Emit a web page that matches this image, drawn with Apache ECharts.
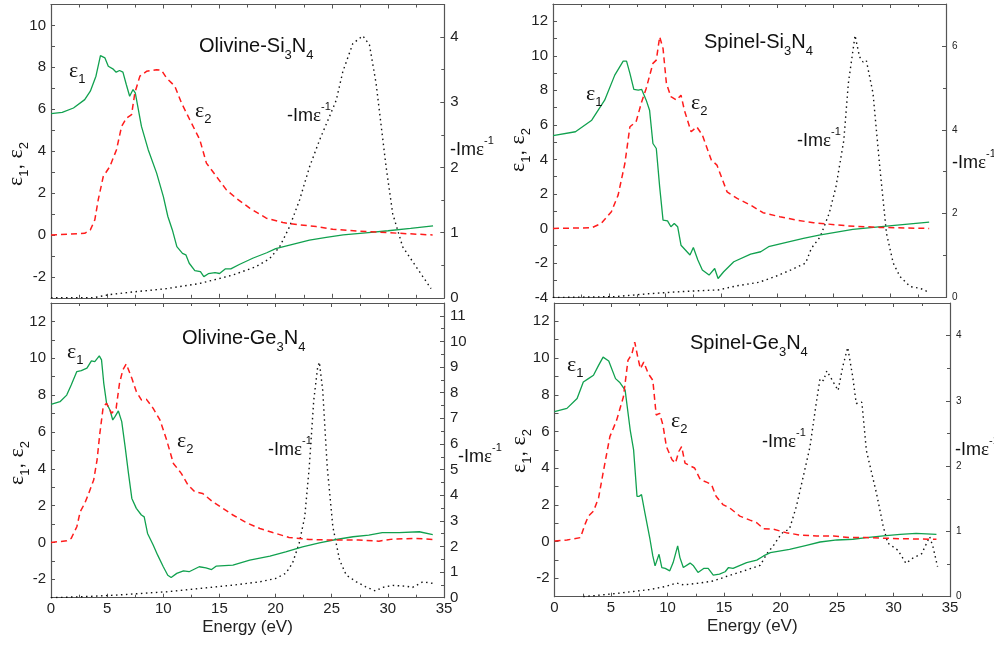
<!DOCTYPE html>
<html><head><meta charset="utf-8">
<script src="https://cdn.jsdelivr.net/npm/echarts@6/dist/echarts.min.js"></script>
<style>html,body{margin:0;padding:0;background:#fff}#c{width:994px;height:646px}</style>
</head><body><div id="c"></div><script>
// ---------- DATA (energy in eV, value) ----------
const energyTicks = [0, 5, 10, 15, 20, 25, 30, 35];

// Olivine-Si3N4
const oSiEps1 = [[0,5.79],[1,5.85],[2,6.06],[3,6.46],[3.5,6.86],[4,7.58],[4.4,8.56],[4.8,8.45],[5.1,8.05],[5.5,7.93],[5.8,7.77],[6.1,7.85],[6.4,7.77],[6.7,7.18],[7.0,6.62],[7.3,6.94],[7.5,6.78],[8.05,5.18],[8.65,4.07],[9.4,2.95],[10.0,1.83],[10.4,0.88],[10.8,0.24],[11.2,-0.56],[11.7,-0.88],[12.0,-0.95],[12.3,-1.35],[12.8,-1.7],[13.3,-1.75],[13.6,-1.99],[14.0,-1.85],[14.6,-1.8],[15.0,-1.84],[15.5,-1.62],[16.0,-1.62],[16.8,-1.4],[18.0,-1.1],[19.2,-0.85],[20.0,-0.65],[21.5,-0.45],[23.0,-0.25],[24.5,-0.12],[26.0,0.0],[28.0,0.1],[30.0,0.2],[32.0,0.31],[34.0,0.43]];
const oSiEps2 = [[0,0],[3.0,0.08],[3.5,0.24],[3.9,0.72],[4.2,1.67],[4.65,2.79],[5.24,3.27],[5.83,4.07],[6.28,5.18],[6.72,5.58],[7.17,5.74],[7.46,6.78],[7.91,7.58],[8.5,7.81],[9.39,7.89],[9.83,7.86],[10.27,7.5],[11.02,7.1],[11.61,6.3],[12.35,5.5],[13.24,4.55],[13.83,3.43],[14.72,2.79],[15.61,2.15],[16.49,1.75],[17.68,1.28],[19.16,0.8],[20.64,0.59],[22.12,0.48],[23.6,0.4],[25.08,0.27],[28.04,0.16],[31.0,0.08],[33.96,0.0]];
const oSiLoss = [[0,0],[3.76,0],[5.24,0.05],[7.31,0.09],[10.27,0.14],[13.24,0.22],[16.2,0.35],[18.27,0.48],[19.45,0.6],[20.34,0.78],[21.23,1.09],[22.12,1.5],[23.01,2.01],[23.9,2.42],[24.78,2.78],[25.38,3.03],[25.97,3.47],[26.86,3.9],[27.75,4.02],[28.34,3.88],[28.93,3.29],[29.82,2.01],[30.41,1.29],[31.3,0.78],[32.48,0.48],[33.82,0.14]];

// Spinel-Si3N4
const sSiEps1 = [[0,5.37],[2.0,5.6],[3.45,6.27],[4.6,7.43],[5.5,8.88],[6.25,9.69],[6.55,9.69],[6.85,8.98],[7.2,8.05],[7.6,8.01],[7.9,8.05],[8.3,7.43],[8.6,6.85],[8.9,4.92],[9.2,4.63],[9.5,2.41],[9.8,0.48],[10.2,0.44],[10.5,0.1],[10.8,0.29],[11.1,0.1],[11.4,-0.97],[12.2,-1.54],[12.5,-1.1],[12.9,-1.83],[13.3,-2.41],[13.9,-2.7],[14.4,-2.32],[14.7,-2.9],[15.2,-2.51],[16.1,-1.93],[17.6,-1.49],[18.5,-1.35],[19.2,-1.06],[20.6,-0.83],[22.3,-0.58],[23.7,-0.39],[26.7,-0.06],[29.7,0.14],[33.5,0.37]];
const sSiEps2 = [[0,0],[3.45,0.04],[4.3,0.29],[5.2,0.97],[5.8,1.93],[6.4,3.76],[6.85,5.89],[7.4,6.18],[7.9,7.34],[8.3,8.11],[8.9,9.56],[9.2,9.75],[9.5,11.1],[9.8,10.42],[10.1,8.4],[10.5,7.63],[11.0,7.43],[11.4,7.72],[11.7,6.85],[12.3,5.6],[12.8,5.89],[13.3,5.41],[14.1,3.96],[14.6,3.67],[15.5,2.12],[16.4,1.74],[17.6,1.35],[18.7,0.91],[20.2,0.68],[21.7,0.48],[23.2,0.33],[26.2,0.15],[29.1,0.06],[33.5,0]];
const sSiLoss = [[0,0],[5.5,0.02],[8.5,0.09],[11.4,0.14],[12.9,0.16],[14.7,0.18],[16.4,0.28],[18.3,0.36],[19.8,0.5],[21.2,0.66],[22.5,0.82],[23.0,1.17],[23.8,1.45],[24.6,2.01],[25.2,2.64],[25.9,3.75],[26.3,5.1],[26.9,6.25],[27.3,5.74],[27.6,5.62],[27.9,5.66],[28.5,4.87],[29.1,3.12],[29.7,1.53],[30.3,0.82],[30.9,0.5],[31.8,0.26],[32.7,0.22],[33.5,0.12]];

// Olivine-Ge3N4
const oGeEps1 = [[0,7.5],[0.8,7.64],[1.4,8.0],[1.8,8.55],[2.3,9.28],[2.7,9.33],[3.2,9.46],[3.6,9.86],[3.9,9.82],[4.3,10.13],[4.5,9.91],[4.7,8.64],[4.95,7.55],[5.25,7.19],[5.5,6.65],[5.7,6.83],[6.0,7.14],[6.3,6.56],[6.6,5.2],[6.9,3.75],[7.2,2.39],[7.6,1.85],[8.05,1.49],[8.3,1.39],[8.6,0.49],[9.1,-0.14],[9.5,-0.69],[10.0,-1.32],[10.4,-1.78],[10.7,-1.9],[11.2,-1.68],[11.8,-1.54],[12.3,-1.59],[13.2,-1.32],[13.8,-1.38],[14.3,-1.47],[14.7,-1.29],[16.2,-1.23],[17.7,-0.96],[19.5,-0.74],[20.9,-0.51],[22.4,-0.24],[23.9,-0.02],[25.4,0.16],[26.9,0.31],[28.3,0.4],[29.5,0.53],[31.0,0.53],[32.8,0.58],[34.0,0.43]];
const oGeEps2 = [[0,0],[1.4,0.09],[1.8,0.22],[2.3,0.85],[2.6,1.67],[3.0,2.12],[3.3,2.57],[3.8,3.39],[4.1,4.47],[4.35,5.92],[4.65,7.37],[4.95,7.55],[5.4,7.01],[5.8,7.28],[6.1,8.64],[6.4,9.37],[6.7,9.69],[7.2,8.91],[7.6,8.19],[8.05,7.74],[8.5,7.77],[9.1,7.28],[9.7,6.65],[10.3,5.56],[10.9,4.29],[11.6,3.75],[12.2,3.12],[12.8,2.75],[13.5,2.66],[14.4,2.21],[15.3,1.85],[16.2,1.49],[17.4,1.07],[18.6,0.76],[19.75,0.54],[21.2,0.27],[23.0,0.16],[25.1,0.13],[27.4,0.13],[29.2,0.07],[30.4,0.18],[32.5,0.22],[34.0,0.16]];
const oGeLoss = [[0,0],[2.9,0.04],[5.8,0.1],[8.8,0.19],[10.3,0.23],[13.2,0.36],[16.2,0.49],[18.6,0.62],[20.0,0.75],[20.9,0.95],[21.5,1.34],[22.1,2.12],[22.6,3.16],[23.0,5.1],[23.4,7.7],[23.75,9.0],[23.9,9.19],[24.2,8.09],[24.6,5.1],[25.1,2.77],[25.7,1.47],[26.3,0.88],[27.2,0.62],[28.0,0.43],[28.9,0.26],[29.5,0.4],[30.4,0.48],[31.6,0.45],[32.2,0.4],[33.1,0.62],[34.0,0.56]];

// Spinel-Ge3N4
const sGeEps1 = [[0,7.08],[1.1,7.26],[2.0,7.8],[2.55,8.7],[3.0,8.88],[3.45,9.06],[3.9,9.6],[4.3,10.05],[4.8,9.84],[5.4,8.88],[5.8,8.65],[6.25,8.25],[6.7,6.08],[7.0,5.0],[7.3,2.47],[7.5,2.47],[7.7,2.56],[8.0,1.57],[8.45,0.13],[8.7,-0.78],[8.9,-1.32],[9.05,-1.23],[9.25,-0.69],[9.5,-1.41],[9.8,-1.46],[10.2,-1.59],[10.5,-1.14],[10.9,-0.23],[11.1,-0.87],[11.4,-1.41],[12.0,-1.17],[12.3,-1.32],[12.7,-1.68],[13.2,-1.46],[13.6,-1.46],[14.05,-1.82],[14.6,-1.77],[15.1,-1.64],[15.4,-1.41],[15.8,-1.46],[17.0,-1.14],[17.9,-1.01],[18.5,-0.78],[19.1,-0.6],[20.8,-0.42],[22.3,-0.2],[23.5,-0.02],[25.0,0.09],[26.4,0.13],[27.6,0.22],[29.1,0.31],[30.6,0.4],[32.0,0.45],[33.8,0.4]];
const sGeEps2 = [[0,0.04],[1.1,0.09],[2.3,0.22],[2.7,0.94],[3.0,1.39],[3.45,1.66],[3.9,2.38],[4.3,3.74],[4.9,5.72],[5.5,6.62],[6.1,7.89],[6.5,9.87],[6.85,10.23],[7.1,10.87],[7.4,9.96],[7.6,9.42],[7.9,9.78],[8.3,9.15],[8.7,8.79],[9.0,6.9],[9.3,6.99],[9.6,6.35],[9.9,5.18],[10.4,4.46],[10.7,4.28],[11.0,4.91],[11.25,5.18],[11.55,4.28],[12.0,4.13],[12.4,4.01],[12.9,3.38],[13.5,3.23],[13.9,3.1],[14.3,2.47],[14.9,2.02],[15.5,1.84],[16.4,1.39],[17.3,1.17],[17.9,1.03],[18.5,0.7],[19.4,0.67],[20.5,0.49],[21.7,0.36],[23.2,0.31],[24.7,0.31],[26.1,0.22],[27.6,0.22],[30.6,0.16],[33.8,0.13]];
const sGeLoss = [[2.55,0],[5.5,0.05],[8.45,0.11],[9.9,0.16],[10.8,0.21],[11.4,0.18],[12.9,0.21],[14.05,0.24],[15.2,0.31],[17.0,0.41],[18.2,0.48],[18.8,0.66],[19.4,0.79],[20.1,0.97],[20.8,1.04],[21.4,1.38],[22.0,1.83],[22.6,2.29],[23.2,3.01],[23.5,3.34],[23.8,3.31],[24.1,3.46],[24.5,3.34],[25.1,3.16],[25.5,3.52],[25.95,3.82],[26.4,3.36],[26.7,2.96],[27.2,2.98],[27.6,2.24],[28.5,1.58],[29.1,1.07],[29.5,0.82],[30.0,0.76],[30.4,0.71],[31.1,0.51],[31.7,0.59],[32.5,0.66],[33.2,0.92],[33.5,0.76],[33.9,0.46]];

// axis ranges / tick label values
const leftRanges  = [[-3, 11], [-4, 13], [-3, 13], [-3, 13]];
const rightRanges = [[0, 4.5, 1], [0, 7, 2], [0, 11.5, 1], [0, 4.5, 1]];
const panelTitles = [['Olivine-Si', '3', 'N', '4'], ['Spinel-Si', '3', 'N', '4'], ['Olivine-Ge', '3', 'N', '4'], ['Spinel-Ge', '3', 'N', '4']];

// ---------- LAYOUT ----------
const SANS = 'Liberation Sans, Arial, sans-serif';
const SERIF = 'Liberation Serif, Times New Roman, serif';
const AX = '#555';
const grids = [
  {left: 51, top: 4.5, width: 393.3, height: 293.3},
  {left: 553, top: 4, width: 393, height: 293.5},
  {left: 51, top: 303, width: 393, height: 294.7},
  {left: 554.5, top: 303, width: 395.5, height: 293.7}
];
const rightLabelSize = [15, 10, 15, 10];

const xAxes = [], yAxes = [], series = [];
const lineCommon = {type: 'line', showSymbol: false, symbol: 'none', animation: false, silent: true};
const green = '#11a14f', red = '#ff1c1c';
const dataSets = [[oSiEps1, oSiEps2, oSiLoss], [sSiEps1, sSiEps2, sSiLoss], [oGeEps1, oGeEps2, oGeLoss], [sGeEps1, sGeEps2, sGeLoss]];

grids.forEach((g, i) => {
  const bottomLabels = i >= 2;
  const tickCommon = {inside: true, length: 4, lineStyle: {color: AX, width: 1}};
  const minorCommon = {show: true, splitNumber: 2, length: 3, lineStyle: {color: AX, width: 1}};
  xAxes.push({
    gridIndex: i, type: 'value', position: 'bottom', min: energyTicks[0], max: energyTicks[energyTicks.length - 1], interval: 5,
    axisLine: {show: true, onZero: false, lineStyle: {color: AX, width: 1.2}},
    axisTick: tickCommon, minorTick: minorCommon, splitLine: {show: false},
    axisLabel: {show: bottomLabels, fontSize: 15, fontFamily: SANS, color: '#222', margin: 4},
    name: bottomLabels ? 'Energy (eV)' : '', nameLocation: 'middle', nameGap: 21,
    nameTextStyle: {fontSize: 17, fontFamily: SANS, color: '#222'}
  });
  xAxes.push({
    gridIndex: i, type: 'value', position: 'top', min: 0, max: 35, interval: 5,
    axisLine: {show: true, onZero: false, lineStyle: {color: AX, width: 1.2}},
    axisTick: tickCommon, minorTick: minorCommon, splitLine: {show: false}, axisLabel: {show: false}
  });
  yAxes.push({
    gridIndex: i, type: 'value', position: 'left', min: leftRanges[i][0], max: leftRanges[i][1], interval: 1,
    axisLine: {show: true, onZero: false, lineStyle: {color: AX, width: 1.2}},
    axisTick: {inside: true, length: 4, lineStyle: {color: AX}}, splitLine: {show: false},
    axisLabel: {fontSize: 15, fontFamily: SANS, color: '#222', margin: 5,
      formatter: v => (Math.round(v) % 2 === 0 ? String(v) : '')}
  });
  yAxes.push({
    gridIndex: i, type: 'value', position: 'right', min: rightRanges[i][0], max: rightRanges[i][1], interval: rightRanges[i][2],
    axisLine: {show: true, onZero: false, lineStyle: {color: AX, width: 1.2}},
    axisTick: {inside: true, length: 4, lineStyle: {color: AX}}, minorTick: minorCommon, splitLine: {show: false},
    axisLabel: {fontSize: rightLabelSize[i], fontFamily: SANS, color: '#222', margin: 6, showMaxLabel: false}
  });
  const [e1, e2, loss] = dataSets[i];
  series.push(Object.assign({}, lineCommon, {name: 'eps1', xAxisIndex: 2 * i, yAxisIndex: 2 * i, data: e1,
    lineStyle: {color: green, width: 1.3}, z: 3}));
  series.push(Object.assign({}, lineCommon, {name: 'eps2', xAxisIndex: 2 * i, yAxisIndex: 2 * i, data: e2,
    lineStyle: {color: red, width: 1.5, type: [6, 4]}, z: 4}));
  series.push(Object.assign({}, lineCommon, {name: 'loss', xAxisIndex: 2 * i, yAxisIndex: 2 * i + 1, data: loss,
    lineStyle: {color: '#111', width: 1.4, type: [1.5, 3.5]}, z: 2}));
});

// ---------- TEXT ----------
const R = {
  t: {fontSize: 20, fontFamily: SANS, lineHeight: 32, verticalAlign: 'middle', fill: '#111'},
  ts: {fontSize: 13, fontFamily: SANS, lineHeight: 12, verticalAlign: 'bottom', fill: '#111'},
  e: {fontSize: 22, fontFamily: SERIF, lineHeight: 30, verticalAlign: 'middle', fill: '#111'},
  es: {fontSize: 13, fontFamily: SANS, lineHeight: 10, verticalAlign: 'bottom', fill: '#111'},
  c: {fontSize: 20, fontFamily: SANS, lineHeight: 30, verticalAlign: 'middle', fill: '#111'},
  i: {fontSize: 18, fontFamily: SANS, lineHeight: 30, verticalAlign: 'middle', fill: '#111'},
  ie: {fontSize: 19, fontFamily: SERIF, lineHeight: 30, verticalAlign: 'middle', fill: '#111'},
  sup: {fontSize: 11, fontFamily: SANS, lineHeight: 9, verticalAlign: 'top', fill: '#111'}
};
function txt(x, y, text, rotation, align) {
  return {type: 'text', x: x, y: y, rotation: rotation || 0, z: 100,
    style: {text: text, rich: R, align: align || 'left', verticalAlign: 'middle', fill: '#111', fontFamily: SANS}};
}
const EPS1 = '{e|ε}{es|1}', EPS2 = '{e|ε}{es|2}';
const LOSS = '{i|-Im}{ie|ε}{sup|-1}';
const YNAME = '{e|ε}{es|1}{c|, }{e|ε}{es|2}';
const titleText = t => `{t|${t[0]}}{ts|${t[1]}}{t|${t[2]}}{ts|${t[3]}}`;

const titlePos = [[199, 46], [704, 42], [182, 338], [690, 343]];
const eps1Pos = [[69, 71], [586, 94], [67, 352], [567, 365]];
const eps2Pos = [[195, 111], [691, 103], [177, 441], [671, 421]];
const lossPos = [[287, 116], [797, 141], [268, 450], [762, 442]];
const rightNamePos = [[450, 150], [952, 163], [458, 457], [955, 450]];
const yNamePos = [[16, 164], [518, 150], [17, 463], [519, 451]];

const graphic = [];
for (let i = 0; i < 4; i++) {
  graphic.push(txt(titlePos[i][0], titlePos[i][1], titleText(panelTitles[i])));
  graphic.push(txt(eps1Pos[i][0], eps1Pos[i][1], EPS1));
  graphic.push(txt(eps2Pos[i][0], eps2Pos[i][1], EPS2));
  graphic.push(txt(lossPos[i][0], lossPos[i][1], LOSS));
  graphic.push(txt(rightNamePos[i][0], rightNamePos[i][1], LOSS));
  graphic.push(txt(yNamePos[i][0], yNamePos[i][1], YNAME, Math.PI / 2, 'center'));
}

const chart = echarts.init(document.getElementById('c'), null, {renderer: 'canvas'});
chart.setOption({
  animation: false,
  backgroundColor: '#fff',
  grid: grids.map(g => Object.assign({containLabel: false}, g)),
  xAxis: xAxes, yAxis: yAxes, series: series, graphic: graphic
});
</script></body></html>
